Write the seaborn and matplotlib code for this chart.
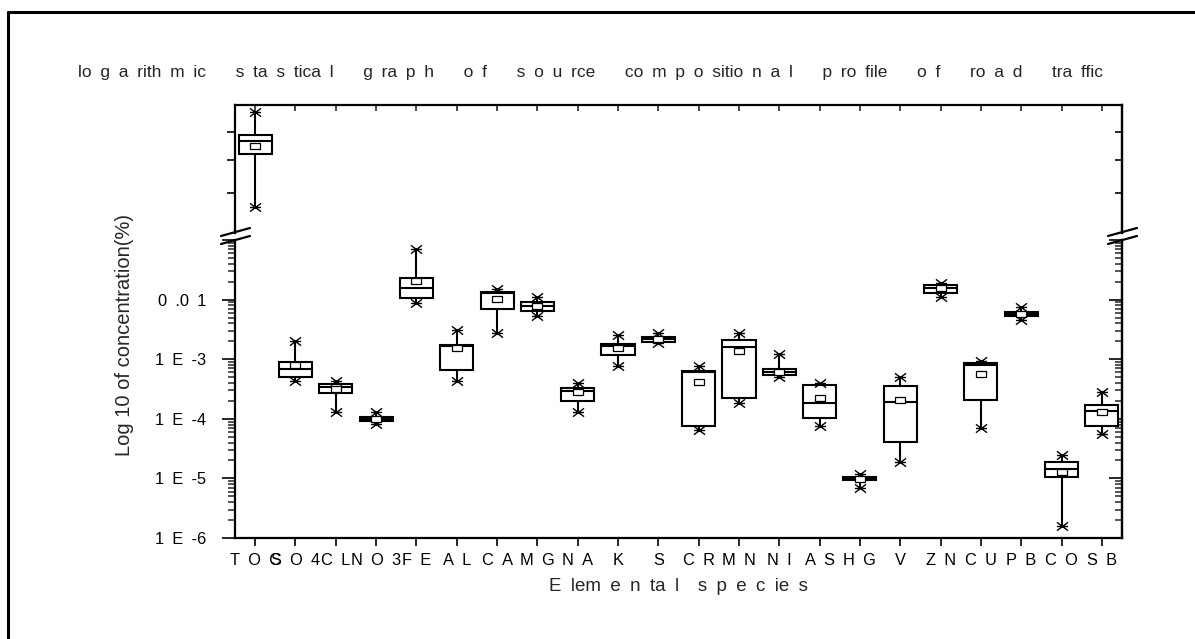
import numpy as np
import pandas as pd
import matplotlib
matplotlib.use("Agg")
import matplotlib.pyplot as plt
from matplotlib.path import Path
from matplotlib.lines import Line2D
from matplotlib.ticker import FixedLocator, NullLocator, LogLocator, NullFormatter
import seaborn as sns

# ---------------- data ----------------
categories = ["TOC", "SO4", "CL", "NO3", "FE", "AL", "CA", "MG", "NA", "K", "S",
              "CR", "MN", "NI", "AS", "HG", "V", "ZN", "CU", "PB", "CO", "SB"]
SP = "\u2002"  # en space, used for the spaced-out lettering of the original
tick_labels = [SP.join(c) for c in categories]
whisker_low = [46.3, 4.36e-4, 1.29e-4, 8.2e-5, 8.67e-3, 4.36e-4, 2.78e-3, 5.37e-3, 1.31e-4,
               7.78e-4, 1.87e-3, 6.49e-5, 1.82e-4, 4.97e-4, 7.66e-5, 6.82e-6, 1.91e-5,
               1.094e-2, 6.93e-5, 4.55e-3, 1.59e-6, 5.5e-5]
box_q1 = [62.1, 4.97e-4, 2.68e-4, 9.2e-5, 1.05e-2, 6.59e-4, 6.87e-3, 6.44e-3, 1.99e-4,
          1.19e-3, 1.94e-3, 7.57e-5, 2.21e-4, 5.43e-4, 1.02e-4, 9.29e-6, 4.13e-5,
          1.276e-2, 2.07e-4, 5.31e-3, 1.07e-5, 7.57e-5]
medians = [66.7, 6.85e-4, 3.46e-4, 9.9e-5, 1.55e-2, 1.68e-3, 1.30e-2, 7.82e-3, 2.96e-4,
           1.66e-3, 2.18e-3, 6.1e-4, 1.58e-3, 6.17e-4, 1.82e-4, 9.89e-6, 1.91e-4,
           1.55e-2, 8.0e-4, 5.73e-3, 1.42e-5, 1.35e-4]
box_q3 = [68.9, 8.87e-4, 3.79e-4, 1.08e-4, 2.28e-2, 1.71e-3, 1.36e-2, 9.23e-3, 3.33e-4,
          1.80e-3, 2.36e-3, 6.41e-4, 2.10e-3, 6.77e-4, 3.69e-4, 1.04e-5, 3.55e-4,
          1.758e-2, 8.53e-4, 6.27e-3, 1.86e-5, 1.71e-4]
whisker_high = [78.2, 2.02e-3, 4.36e-4, 1.31e-4, 6.98e-2, 3.09e-3, 1.51e-2, 1.094e-2, 3.94e-4,
                2.55e-3, 2.72e-3, 7.78e-4, 2.72e-3, 1.21e-3, 3.94e-4, 1.19e-5, 4.97e-4,
                1.923e-2, 9.44e-4, 7.6e-3, 2.47e-5, 2.78e-4]
means = [64.9, 8.0e-4, 3.16e-4, 1.0e-4, 2.05e-2, 1.52e-3, 1.035e-2, 7.82e-3, 2.78e-4,
         1.56e-3, 2.18e-3, 4.1e-4, 1.39e-3, 6.17e-4, 2.21e-4, 9.89e-6, 2.07e-4,
         1.55e-2, 5.65e-4, 5.73e-3, 1.30e-5, 1.31e-4]

lower_ticks = [1e-6, 1e-5, 1e-4, 1e-3, 1e-2, 1e-1]
lower_tick_labels = ["1" + SP + "E" + SP + "-6", "1" + SP + "E" + SP + "-5",
                     "1" + SP + "E" + SP + "-4", "1" + SP + "E" + SP + "-3",
                     "0" + SP + ".0" + SP + "1", ""]
upper_ticks = [50, 60, 70]

title_groups = [["lo", "g", "a", "rith", "m", "ic"], ["s", "ta", "s", "tica", "l"],
                ["g", "ra", "p", "h"], ["o", "f"], ["s", "o", "u", "rce"],
                ["co", "m", "p", "o", "sitio", "n", "a", "l"], ["p", "ro", "file"],
                ["o", "f"], ["ro", "a", "d"], ["tra", "ffic"]]
title = ("\u2003" + SP + "\u2009").join(SP.join(g) for g in title_groups)
xlabel = SP.join(["E", "lem", "e", "n", "ta", "l"]) + "\u2003" + SP.join(["s", "p", "e", "c", "ie", "s"])
ylabel = "Log 10 of concentration(%)"

# five-number summaries as long-form data: with whis=(0,100) seaborn draws exactly these
rows = []
for c, a, b, m, d, e in zip(categories, whisker_low, box_q1, medians, box_q3, whisker_high):
    for v in (a, b, m, d, e):
        rows.append((c, v))
df = pd.DataFrame(rows, columns=["species", "value"])
ends = pd.DataFrame({"species": categories * 2, "value": whisker_low + whisker_high})
mean_df = pd.DataFrame({"species": categories, "value": means})

# ---------------- style ----------------
sns.set_style("ticks")
plt.rcParams["font.family"] = ["Liberation Sans", "DejaVu Sans"]

W, H = 1195, 639
fig = plt.figure(figsize=(W / 100, H / 100), dpi=100)


def rect(x0, y0, x1, y1):
    return [x0 / W, 1 - y1 / H, (x1 - x0) / W, (y1 - y0) / H]


ax_top = fig.add_axes(rect(235, 105, 1122, 233))
ax_bot = fig.add_axes(rect(235, 240, 1122, 538))

star = Path([(-1, 0), (1, 0), (-1, -0.75), (1, 0.75), (-1, 0.75), (1, -0.75)],
            [Path.MOVETO, Path.LINETO, Path.MOVETO, Path.LINETO, Path.MOVETO, Path.LINETO])
rect_marker = Path([(-1, -0.7), (1, -0.7), (1, 0.7), (-1, 0.7), (-1, -0.7)],
                   [Path.MOVETO, Path.LINETO, Path.LINETO, Path.LINETO, Path.CLOSEPOLY])

for ax in (ax_top, ax_bot):
    ax.set_yscale("log")
    sns.boxplot(data=df, x="species", y="value", order=categories, whis=(0, 100),
                width=0.82, color="white", linecolor="black", linewidth=1.5,
                showcaps=False, fliersize=0, saturation=1,
                medianprops={"color": "black", "linewidth": 1.5}, ax=ax)
    sns.stripplot(data=ends, x="species", y="value", order=categories, jitter=False,
                  marker=star, size=8, color="black", edgecolor="black", linewidth=1.0,
                  ax=ax, zorder=4)
    sns.stripplot(data=mean_df, x="species", y="value", order=categories, jitter=False,
                  marker=rect_marker, size=6.5, color="white", edgecolor="black",
                  linewidth=0.9, ax=ax, zorder=5)
    ax.set_xlim(-0.5, len(categories) - 0.5)
    ax.set_xlabel("")
    ax.set_ylabel("")
    for s in ax.spines.values():
        s.set_linewidth(1.6)
        s.set_color("black")

# --- upper panel (TOC) ---
ax_top.set_ylim(40.1, 81.3)
ax_top.spines["bottom"].set_visible(False)
ax_top.yaxis.set_major_locator(FixedLocator(upper_ticks))
ax_top.yaxis.set_minor_locator(NullLocator())
ax_top.yaxis.set_major_formatter(NullFormatter())
ax_top.yaxis.set_minor_formatter(NullFormatter())
ax_top.set_xticks(range(len(categories)))
ax_top.tick_params(axis="x", which="both", bottom=False, top=True, direction="in",
                   length=4, width=1.2, labelbottom=False, labeltop=False)
ax_top.tick_params(axis="y", which="major", left=True, right=False, direction="out",
                   length=6, width=1.4)
sec = ax_top.secondary_yaxis("right")
sec.yaxis.set_major_locator(FixedLocator(upper_ticks))
sec.yaxis.set_minor_locator(NullLocator())
sec.yaxis.set_major_formatter(NullFormatter())
sec.yaxis.set_minor_formatter(NullFormatter())
sec.tick_params(axis="y", which="major", direction="in", length=5, width=1.4)
sec.spines["right"].set_linewidth(1.6)

# --- lower panel ---
ax_bot.set_ylim(1e-6, 1e-1)
ax_bot.spines["top"].set_visible(False)
ax_bot.yaxis.set_major_locator(FixedLocator(lower_ticks))
ax_bot.set_yticklabels(lower_tick_labels)
ax_bot.yaxis.set_minor_locator(LogLocator(base=10, subs=np.arange(2, 10), numticks=20))
ax_bot.yaxis.set_minor_formatter(NullFormatter())
ax_bot.tick_params(axis="y", which="major", left=True, right=False, direction="out",
                   length=9.5, width=1.4, pad=11, labelsize=11.75, labelcolor="black")
ax_bot.tick_params(axis="y", which="minor", left=True, right=False, direction="out",
                   length=5, width=1.1)
ax_bot.set_xticks(range(len(categories)))
ax_bot.set_xticklabels(tick_labels)
ax_bot.tick_params(axis="x", which="both", bottom=True, top=False, direction="out",
                   length=6, width=1.4, labelsize=11.75, pad=5, labelcolor="black")
sec2 = ax_bot.secondary_yaxis("right")
sec2.yaxis.set_major_locator(FixedLocator(lower_ticks))
sec2.yaxis.set_major_formatter(NullFormatter())
sec2.yaxis.set_minor_locator(LogLocator(base=10, subs=np.arange(2, 10), numticks=20))
sec2.yaxis.set_minor_formatter(NullFormatter())
sec2.tick_params(axis="y", which="major", direction="in", length=9.5, width=1.4)
sec2.tick_params(axis="y", which="minor", direction="in", length=5, width=1.1)
sec2.spines["right"].set_linewidth(1.6)

ax_bot.set_xlabel(xlabel, fontsize=13.5, labelpad=7)

# labels / title
fig.text(125 / W, 1 - 335 / H, ylabel, rotation=90, ha="center", va="center", fontsize=14.5)
fig.text(591 / W, 1 - 73 / H, title, ha="center", va="center", fontsize=12.5)

# axis break marks
for (x0, x1) in ((221, 250), (1108, 1137)):
    for (ya, yb) in ((236, 228), (244, 236)):
        fig.add_artist(Line2D([x0 / W, x1 / W], [1 - ya / H, 1 - yb / H],
                              transform=fig.transFigure, color="black", lw=1.6))

# outer frame
fig.add_artist(Line2D([8 / W, 8 / W], [0, 1 - 12 / H], transform=fig.transFigure,
                      color="black", lw=2.2))
fig.add_artist(Line2D([8 / W, 1], [1 - 12 / H, 1 - 12 / H], transform=fig.transFigure,
                      color="black", lw=2.2))

fig.savefig("out.png", dpi=100)
